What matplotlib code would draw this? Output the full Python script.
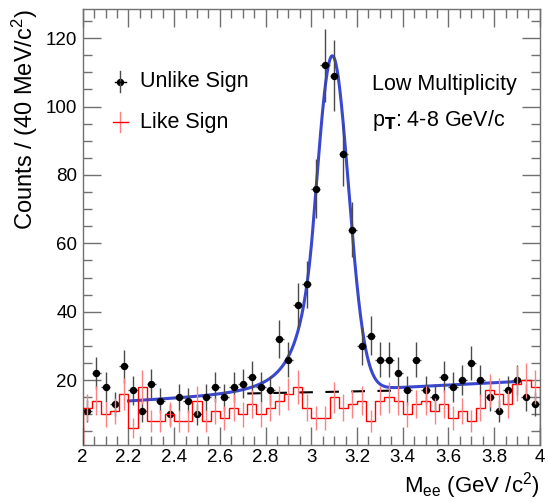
import numpy as np
import matplotlib
matplotlib.use('Agg')
import matplotlib.pyplot as plt
from matplotlib.ticker import MultipleLocator, FormatStrFormatter

plt.rcParams['font.family'] = ['Liberation Sans', 'DejaVu Sans']
plt.rcParams['mathtext.fontset'] = 'custom'
plt.rcParams['mathtext.rm'] = 'Liberation Sans'
plt.rcParams['mathtext.it'] = 'Liberation Sans'

# 40 MeV/c^2 bins from 2.0 to 4.0 GeV/c^2
bin_edges = np.round(np.arange(2.0, 4.0001, 0.04), 3)
bin_centers = 0.5 * (bin_edges[:-1] + bin_edges[1:])

unlike_counts = [11, 22, 18, 13, 24, 17, 11, 19, 14, 10,
                 15, 14, 10, 15, 18, 15, 18, 19, 21, 18,
                 17, 32, 26, 42, 48, 76, 112, 109, 86, 64,
                 30, 33, 26, 26, 22, 17, 26, 17, 15, 21,
                 18, 20, 25, 20, 15, 11, 17, 20, 15, 13]

like_counts = [12, 14, 10, 11, 16, 6, 18, 8, 8, 10,
               8, 8, 14, 8, 11, 9, 12, 10, 13, 10,
               12, 14, 16, 18, 12, 9, 9, 15, 12, 13,
               14, 8, 14, 15, 14, 10, 13, 14, 11, 13,
               9, 11, 8, 12, 17, 16, 13, 19, 20, 18]

# Crystal Ball signal + linear background fit parameters
fit_range = (2.2, 3.9)
cb_norm, cb_mean, cb_sigma, cb_alpha, cb_n = 98.0, 3.092, 0.071, 1.2, 4.0
bkg_p0, bkg_p1 = 13.8, 3.41   # bkg = p0 + p1*(m - 2.2)

# residual background line under the peak
bkg_line_m = [2.72, 3.40]
bkg_line_y = [16.1, 17.0]


def crystal_ball(m):
    t = (m - cb_mean) / cb_sigma
    a = (cb_n / cb_alpha) ** cb_n * np.exp(-0.5 * cb_alpha ** 2)
    b = cb_n / cb_alpha - cb_alpha
    tail = a * np.abs(b - t) ** (-cb_n)
    core = np.exp(-0.5 * t ** 2)
    return cb_norm * np.where(t > -cb_alpha, core, tail)


def fit_func(m):
    return crystal_ball(m) + bkg_p0 + bkg_p1 * (m - 2.2)


fig = plt.figure(figsize=(5.48, 5.03), dpi=100)
ax = fig.add_axes([0.151, 0.115, 0.834, 0.867])

unlike = np.array(unlike_counts, dtype=float)
like = np.array(like_counts, dtype=float)

# like-sign: red step histogram with error bars
ax.stairs(like, bin_edges, color='red', lw=1.0, zorder=4)
ax.errorbar(bin_centers, like, yerr=1.15 * np.sqrt(like), fmt='none',
            ecolor='#ff8080', elinewidth=1.0, zorder=4)

# fit
m = np.linspace(fit_range[0], fit_range[1], 600)
ax.plot(m, fit_func(m), color='#3a48d0', lw=2.2, zorder=2)
ax.plot(bkg_line_m, bkg_line_y, color='black', lw=1.5, dashes=(6.5, 6), zorder=2)

# unlike-sign points
ax.errorbar(bin_centers, unlike, yerr=np.sqrt(unlike), xerr=0.02, fmt='o',
            color='black', ms=4.3, ecolor='#4a4a4a', elinewidth=1.0,
            capsize=0, zorder=3)

ax.set_xlim(2.0, 4.0)
ax.set_ylim(1.0, 128.5)

ax.xaxis.set_major_locator(MultipleLocator(0.2))
ax.xaxis.set_minor_locator(MultipleLocator(0.05))
ax.yaxis.set_major_locator(MultipleLocator(20))
ax.yaxis.set_minor_locator(MultipleLocator(5))
ax.xaxis.set_major_formatter(FormatStrFormatter('%g'))
ax.tick_params(which='both', direction='in', top=True, right=True,
               color='#707070', labelsize=13.5)
ax.tick_params(axis='x', pad=3)
ax.tick_params(axis='y', pad=4)
ax.tick_params(which='major', length=13, width=1)
ax.tick_params(which='minor', length=6.5, width=1)
for sp in ax.spines.values():
    sp.set_color('#707070')
    sp.set_linewidth(1.0)

ax.set_ylabel(r'Counts / (40 MeV/c$^2$)', fontsize=17, loc='top', labelpad=4)
ax.set_xlabel(r'M$_{\rm ee}$ (GeV /c$^2$)', fontsize=16, loc='right', labelpad=3)

# legend drawn by hand in axes coordinates
lx, y1, y2 = 0.082, 0.833, 0.741
ax.plot([lx], [y1], 'o', ms=4.3, color='black', transform=ax.transAxes)
ax.plot([lx, lx], [y1 - 0.024, y1 + 0.024], color='#4a4a4a', lw=1, transform=ax.transAxes)
ax.plot([lx - 0.012, lx + 0.012], [y1, y1], color='black', lw=1, transform=ax.transAxes)
ax.plot([lx, lx], [y2 - 0.024, y2 + 0.024], color='#ff8080', lw=1, transform=ax.transAxes)
ax.plot([lx - 0.016, lx + 0.016], [y2, y2], color='red', lw=1, transform=ax.transAxes)
ax.text(0.125, y1, 'Unlike Sign', transform=ax.transAxes, fontsize=15.5, va='center')
ax.text(0.125, y2, 'Like Sign', transform=ax.transAxes, fontsize=15.5, va='center')

ax.text(0.633, 0.828, 'Low Multiplicity', transform=ax.transAxes, fontsize=15.5, va='center')
ax.text(0.633, 0.745, r'p$_{\rm \mathbf{T}}$: 4-8 GeV/c', transform=ax.transAxes,
        fontsize=15.5, va='center')

fig.savefig('out.png', dpi=100)
